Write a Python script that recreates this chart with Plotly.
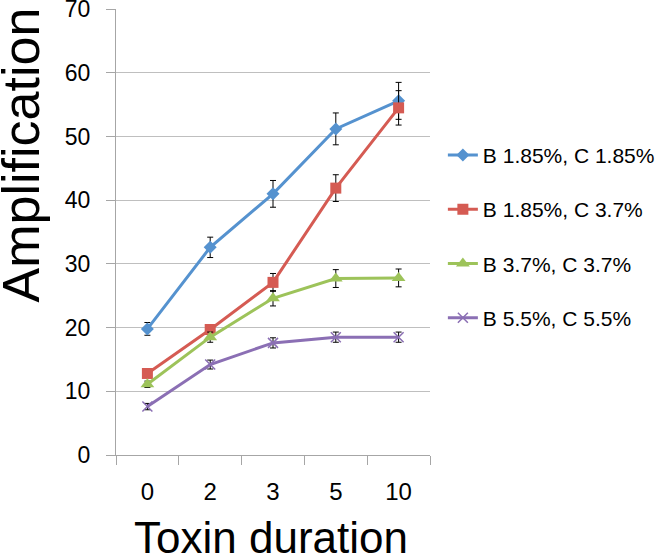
import plotly.graph_objects as go

categories = ["0", "2", "3", "5", "10"]
series_names = ["B 1.85%, C 1.85%", "B 1.85%, C 3.7%", "B 3.7%, C 3.7%", "B 5.5%, C 5.5%"]
blue_vals = [19.8, 32.6, 41.0, 51.2, 55.6]
blue_err = [1.0, 1.6, 2.1, 2.5, 2.9]
red_vals = [12.8, 19.7, 27.1, 41.9, 54.5]
red_err = [0.5, 0.7, 1.4, 2.1, 2.7]
green_vals = [11.1, 18.5, 24.6, 27.7, 27.8]
green_err = [0.5, 0.8, 1.2, 1.4, 1.4]
purple_vals = [7.6, 14.2, 17.6, 18.5, 18.5]
purple_err = [0.5, 0.7, 0.8, 0.8, 0.8]
y_ticks = [0, 10, 20, 30, 40, 50, 60, 70]

colors = ["#5592CF", "#D55B53", "#9DC35A", "#8B6FB4"]
symbols = ["diamond", "square", "triangle-up", "x-thin-open"]
sizes = [10, 11, 12, 10]
vals = [blue_vals, red_vals, green_vals, purple_vals]
errs = [blue_err, red_err, green_err, purple_err]

FONT = "Liberation Sans, Arial, sans-serif"

fig = go.Figure()
for i in range(4):
    marker = dict(symbol=symbols[i], size=sizes[i], color=colors[i])
    if symbols[i] == "x-thin-open":
        marker["line"] = dict(color=colors[i], width=1.5)
    fig.add_trace(go.Scatter(
        x=categories, y=vals[i], name=series_names[i], mode="lines+markers",
        line=dict(color=colors[i], width=3),
        marker=marker,
        legendgroup=f"g{i}",
        error_y=dict(type="data", array=errs[i], visible=True, color="black",
                     thickness=1, width=3),
    ))

fig.update_layout(
    width=663, height=556,
    margin=dict(l=116, r=233, t=9, b=101, autoexpand=False),
    paper_bgcolor="white", plot_bgcolor="white",
    font=dict(family=FONT, color="black"),
    showlegend=True,
    legend=dict(x=1.041, y=0.718, xanchor="left", yanchor="top",
                font=dict(size=21, family=FONT, color="black"),
                tracegroupgap=24, itemwidth=30, bgcolor="rgba(0,0,0,0)"),
    xaxis=dict(type="category", range=[-0.5, 4.5], showline=True, linecolor="#A6A6A6",
               linewidth=1, ticks="outside", tickson="boundaries", ticklen=9,
               tickcolor="#A6A6A6", showgrid=False, tickfont=dict(size=24, family=FONT),
               ticklabelstandoff=15, automargin=False, ticklabeloverflow="allow"),
    yaxis=dict(range=[0, 70.02], tickvals=y_ticks, showline=True, linecolor="#A6A6A6",
               linewidth=1, ticks="outside", ticklen=9, tickcolor="#A6A6A6",
               showgrid=True, gridcolor="#BFBFBF", gridwidth=1, zeroline=False,
               tickfont=dict(size=23, family=FONT), ticklabelstandoff=11,
               automargin=False, ticklabeloverflow="allow"),
    annotations=[
        dict(text="Amplification", xref="paper", yref="paper", x=-0.302, y=0.672,
             xanchor="center", yanchor="middle", textangle=-90, showarrow=False,
             font=dict(size=52, family=FONT, color="black")),
        dict(text="Toxin duration", xref="paper", yref="paper", x=0.493, y=-0.186,
             xanchor="center", yanchor="middle", showarrow=False,
             font=dict(size=44, family=FONT, color="black")),
    ],
)

fig.write_html("out.html", config={"displayModeBar": False},
               post_script="document.body.style.margin='0';document.body.style.overflow='hidden';")
